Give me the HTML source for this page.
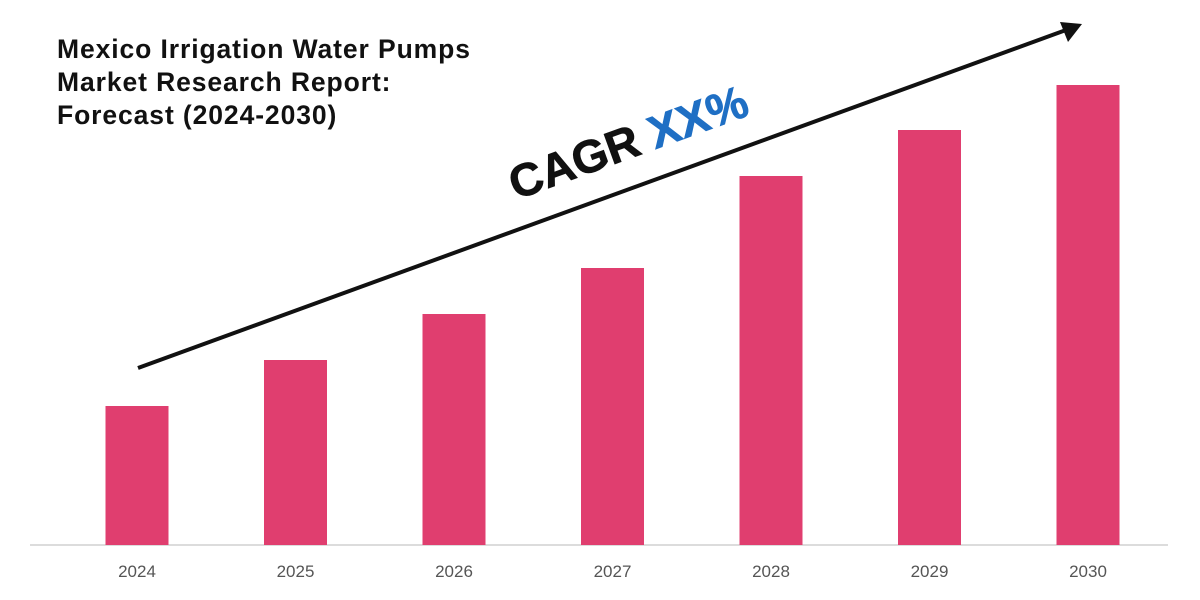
<!DOCTYPE html>
<html><head><meta charset="utf-8">
<style>
body{margin:0;background:#fff;}
svg{display:block;font-family:"Liberation Sans",sans-serif;}
</style></head>
<body>
<svg id="chart" width="1200" height="600" viewBox="0 0 1200 600">
  <g font-weight="bold" font-size="26.5" letter-spacing="0.9" fill="#111">
    <text x="57" y="58">Mexico Irrigation Water Pumps</text>
    <text x="57" y="91">Market Research Report:</text>
    <text x="57" y="124">Forecast (2024-2030)</text>
  </g>
  <line x1="30" y1="545" x2="1168" y2="545" stroke="#d0d0d0" stroke-width="1.5"/>
  <g id="bars"></g>
  <g id="labels"></g>
  <g>
    <line x1="138" y1="368" x2="1066" y2="30" stroke="#111" stroke-width="4"/>
    <polygon points="1082,24 1060,22 1068,42" fill="#111"/>
  </g>
  <text transform="translate(516,200) rotate(-20)" font-size="46" font-weight="bold" fill="#111" stroke="#111" stroke-width="0.8">CAGR <tspan fill="#1f6fc4" stroke="#1f6fc4">XX%</tspan></text>
</svg>
<script>
const categories = ["2024","2025","2026","2027","2028","2029","2030"];
const values = [139,185,231,277,369,415,460];
const ns = "http://www.w3.org/2000/svg";
const baseY = 545, left = 57, step = 158.5, barW = 63;
function yScale(v){ return baseY - v; }
function xCenter(i){ return left + 80 + i*step; }
const gb = document.getElementById("bars"), gl = document.getElementById("labels");
categories.forEach((c,i)=>{
  const r = document.createElementNS(ns,"rect");
  r.setAttribute("x", xCenter(i)-barW/2);
  r.setAttribute("y", yScale(values[i]));
  r.setAttribute("width", barW);
  r.setAttribute("height", baseY - yScale(values[i]));
  r.setAttribute("fill", "#e03e6f");
  
  
  gb.appendChild(r);
  const t = document.createElementNS(ns,"text");
  t.setAttribute("x", xCenter(i));
  t.setAttribute("y", 577);
  t.setAttribute("text-anchor","middle");
  t.setAttribute("font-size","17");
  t.setAttribute("fill","#555");
  t.textContent = c;
  
  
  gl.appendChild(t);
});
</script>
</body></html>
